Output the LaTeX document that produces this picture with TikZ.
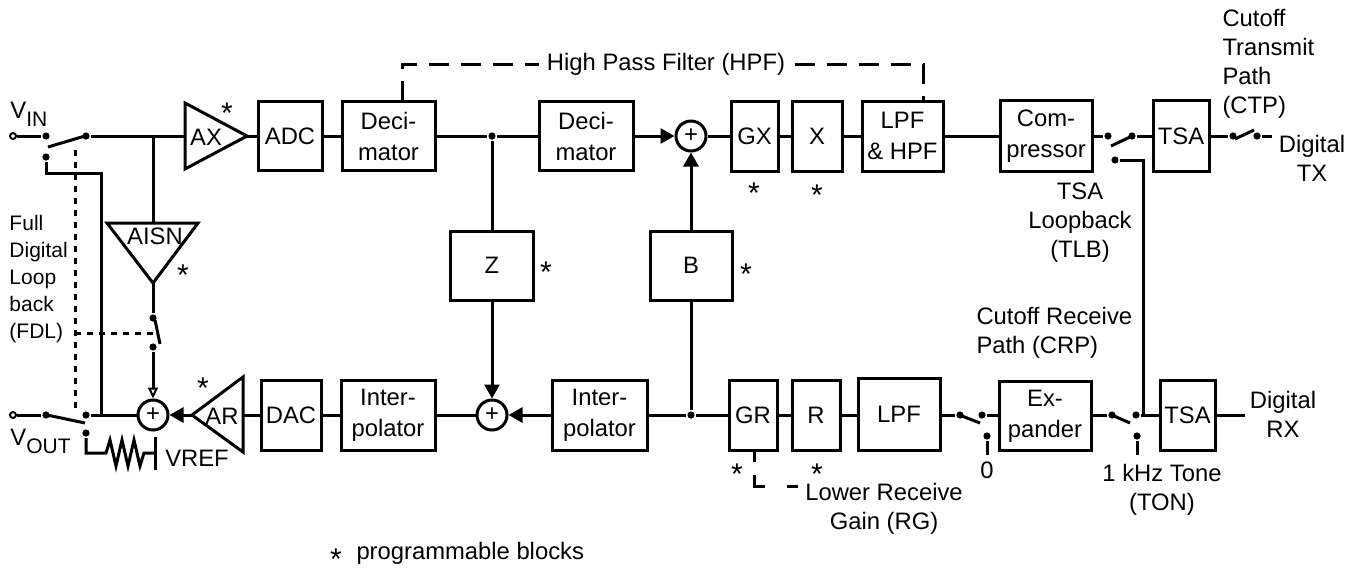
\documentclass[tikz,border=0pt]{standalone}
\usepackage{fontspec}
\setmainfont{Liberation Sans}
\usetikzlibrary{arrows.meta}
\newcommand\astglyph{\raisebox{-0.43em}[0.29em][0pt]{*}}
\begin{document}
\begin{tikzpicture}[x=0.5pt,y=-0.5pt,line width=1.5pt,
  blk/.style={draw,inner sep=0pt,align=center,font=\fontsize{11.9}{15.5}\selectfont},
  lbl/.style={inner sep=0pt,align=center,font=\fontsize{11.9}{14.5}\selectfont},
  lbll/.style={inner sep=0pt,align=left,font=\fontsize{11.9}{14.5}\selectfont},
  small/.style={inner sep=0pt,align=left,font=\fontsize{10.5}{13.5}\selectfont},
  sumc/.style={draw,circle,minimum size=15pt,inner sep=0pt,font=\fontsize{11.9}{12}\selectfont},
  dot/.style={circle,fill,inner sep=0pt,minimum size=3.6pt},
  odot/.style={circle,draw,fill=white,inner sep=0pt,minimum size=3pt,line width=1pt},
  arr/.style={-{Triangle[length=7pt,width=7.5pt]}},
  oarr/.style={-{Triangle[open,length=5.5pt,width=5pt,line width=1pt]}},
  ast/.style={inner sep=0pt,font=\fontsize{15}{15}\selectfont},
  dotted3/.style={dash pattern=on 3pt off 3pt},
  hpfdash/.style={dash pattern=on 10pt off 6pt}]
\path[use as bounding box,fill=white] (0,0) rectangle (1359,569);

% ---------- top row blocks ----------
\node[blk,minimum width=32pt,minimum height=34.5pt] (adc) at (290,136) {ADC};
\node[blk,minimum width=46.5pt,minimum height=34.5pt] (dec1) at (388.5,136) {Deci-\\mator};
\node[blk,minimum width=47pt,minimum height=34.5pt] (dec2) at (586,136) {Deci-\\mator};
\node[sumc] (s1) at (691,136) {+};
\node[blk,minimum width=23.5pt,minimum height=35pt] (gx) at (754.5,136) {GX};
\node[blk,minimum width=25pt,minimum height=35pt] (xb) at (817,136) {X};
\node[blk,minimum width=40.5pt,minimum height=35pt] (lpfh) at (902.5,136) {LPF\\\& HPF};
\node[blk,minimum width=46pt,minimum height=35.5pt] (comp) at (1046,136) {Com-\\pressor};
\node[blk,minimum width=28pt,minimum height=35.5pt] (tsat) at (1181,136) {TSA};

% ---------- middle blocks ----------
\node[blk,minimum width=41.5pt,minimum height=34.5pt] (zb) at (492,265.5) {Z};
\node[blk,minimum width=41pt,minimum height=34.5pt] (bb) at (691,265.5) {B};

% ---------- bottom row blocks ----------
\node[blk,minimum width=30pt,minimum height=35pt] (dac) at (291,415) {DAC};
\node[blk,minimum width=47pt,minimum height=35pt] (int1) at (388,415) {Inter-\\polator};
\node[sumc] (s2) at (492,415) {+};
\node[blk,minimum width=47.5pt,minimum height=35pt] (int2) at (599.5,415) {Inter-\\polator};
\node[blk,minimum width=24pt,minimum height=35pt] (gr) at (753,415) {GR};
\node[blk,minimum width=24pt,minimum height=35pt] (rb) at (816,415) {R};
\node[blk,minimum width=41pt,minimum height=36pt] (lpf) at (899,414) {LPF};
\node[blk,minimum width=46pt,minimum height=34.5pt] (expd) at (1045,416) {Ex-\\pander};
\node[blk,minimum width=27.5pt,minimum height=35pt] (tsab) at (1187.5,415) {TSA};
\node[sumc] (s3) at (153,415) {+};

% ---------- amplifiers (triangles) ----------
\coordinate (axt) at (185,103); \coordinate (axb) at (185,169); \coordinate (axo) at (247,136);
\coordinate (axi) at (185,136);
\draw (axt) -- (axb) -- (axo) -- cycle;
\node[lbl] (axl) at (206,137) {AX};
\coordinate (aisnl) at (107,223); \coordinate (aisnr) at (198,223); \coordinate (aisno) at (153,283);
\coordinate (aisni) at (153,223);
\draw (aisnl) -- (aisnr) -- (aisno) -- cycle;
\node[lbl] (aisnt) at (155,236) {AISN};
\coordinate (art) at (243,377); \coordinate (arb) at (243,452); \coordinate (aro) at (192,415);
\coordinate (ari) at (243,415);
\draw (art) -- (arb) -- (aro) -- cycle;
\node[lbl] (arl) at (222,416) {AR};

% ---------- V_IN switch ----------
\node[odot] (vin) at (13,136) {};
\node[dot] (vina) at (46,136) {};
\node[dot] (vinb) at (86,136) {};
\node[dot] (vinc) at (46,157) {};
\draw (vin) -- (vina);
\draw (48,147) -- (85,136);
\coordinate (aisnj) at (153,136);
\draw (vinb) -- (axi);
\draw (aisnj) -- (aisni);
\draw (axo) -- (adc);
\coordinate (lb1) at (101,173);
\coordinate (fdlj) at (101,415);
\draw (vinc) |- (lb1) -- (fdlj);

% ---------- AISN loop switch ----------
\node[dot] (sa) at (153,318) {};
\node[dot] (sb) at (153,347) {};
\draw (aisno) -- (sa);
\draw (155,320) -- (160,344);
\draw[oarr] (sb) -- (s3.north);

% ---------- FDL dotted lines ----------
\coordinate (fdlt) at (75,150); \coordinate (fdlb) at (75,412);
\coordinate (fdlm) at (75,333); \coordinate (fdls) at (157,333);
\draw[dotted3] (fdlt) -- (fdlb);
\draw[dotted3] (fdlm) -- (fdls);

% ---------- V_OUT switch and VREF ----------
\node[odot] (vout) at (13,415) {};
\node[dot] (vouta) at (46,415) {};
\node[dot] (voutb) at (86,415) {};
\node[dot] (voutc) at (86,433) {};
\draw (vout) -- (vouta);
\draw (47,415) -- (85,423);
\draw (voutb) -- (s3);
\coordinate (resa) at (101,453);
\coordinate (resb) at (155,453);
\draw (voutc) |- (resa) -- (106,453) -- (110,440) -- (116,466) -- (122,440) -- (128,466) -- (134,440) -- (140,466) -- (144,453) -- (resb);
\draw (155,437) -- (155,470);

% ---------- top path connectors ----------
\node[dot] (zt) at (492,136) {};
\draw (adc) -- (dec1);
\draw (dec1) -- (zt) -- (dec2);
\draw (zt) -- (zt |- zb.north);
\draw[arr] (dec2) -- (s1);
\draw (s1) -- (gx);
\draw (gx) -- (xb);
\draw (xb) -- (lpfh);
\draw (lpfh) -- (comp);
\node[dot] (sw1a) at (1108,136) {};
\node[dot] (sw1b) at (1132,136) {};
\node[dot] (sw1c) at (1115,160) {};
\draw (comp) -- (sw1a);
\draw (1111,146) -- (1130,137);
\draw (sw1b) -- (tsat);
\coordinate (tlbj) at (1143,415);
\draw (sw1c) -| (tlbj);
\node[dot] (ctpa) at (1233,136) {};
\node[dot] (ctpb) at (1257,136) {};
\coordinate (txend) at (1272,136);
\draw (tsat) -- (ctpa);
\draw (1235,139) -- (1254,130);
\draw (ctpb) -- (txend);

% HPF dashed
\node[lbl] (hpf) at (666,64) {High Pass Filter (HPF)};
\coordinate (hpfa) at (402,101);
\coordinate (hpfb) at (923,101);
\draw[hpfdash] (hpfa) |- ([xshift=-3pt]hpf.west);
\draw[hpfdash] ([xshift=4pt]hpf.east) -| (hpfb);

% ---------- middle connectors ----------
\draw[arr] (zb.south -| s2) -- (s2.north);
\node[dot] (bj) at (691,415) {};
\draw (bj) -- (bb);
\draw[arr] (bb) -- (s1);

% ---------- bottom connectors ----------
\draw (gr) -- (bj) -- (int2);
\draw[arr] (int2) -- (s2);
\draw (s2) -- (int1);
\draw (int1) -- (dac);
\draw (dac) -- (ari);
\draw[arr] (aro) -- (s3);
\draw (gr) -- (rb);
\draw (rb) -- (rb -| lpf.west);
\node[dot] (l1) at (960,415) {};
\node[dot] (l2) at (982,415) {};
\node[dot] (l3) at (987,436) {};
\draw (lpf.east |- l1) -- (l1);
\draw (962,416) -- (980,423);
\draw (l2) -- (l2 -| expd.west);
\coordinate (zeroend) at (987,455);
\draw (l3) -- (zeroend);
\node[dot] (e1) at (1112,415) {};
\node[dot] (e2) at (1136,415) {};
\node[dot] (e3) at (1137,436) {};
\draw (expd.east |- e1) -- (e1);
\draw (1114,416) -- (1130,423);
\draw (e2) -- (tsab);
\coordinate (tonend) at (1137,455);
\draw (e3) -- (tonend);
\coordinate (rxend) at (1245,415);
\draw (tsab) -- (rxend);

% RG dashed
\coordinate (rga) at (754,450);
\coordinate (rgb) at (798,486);
\draw[dash pattern=on 6pt off 6.5pt on 11pt off 11pt on 5.5pt off 20pt] (rga) |- (rgb);

% ---------- labels ----------
\node[inner sep=0pt,anchor=west,font=\fontsize{11.9}{14}\selectfont] (vinl) at (9,114) {V\raisebox{-4pt}{\fontsize{10.5}{10.5}\selectfont IN}};
\node[inner sep=0pt,anchor=west,font=\fontsize{11.9}{14}\selectfont] (voutl) at (9,441) {V\raisebox{-4pt}{\fontsize{10.5}{10.5}\selectfont OUT}};
\node[lbl] (vref) at (197,458) {VREF};
\node[small,anchor=west] (fdl) at (8,279) {Full\\Digital\\Loop\\back\\(FDL)};
\node[lbll,anchor=west] (ctp) at (1221,64) {Cutoff\\Transmit\\Path\\(CTP)};
\node[lbl] (dtx) at (1312,158) {Digital\\TX};
\node[lbl] (tlb) at (1080,223) {TSA\\Loopback\\(TLB)};
\node[lbll,anchor=west] (crp) at (975,333) {Cutoff Receive\\Path (CRP)};
\node[lbl] (drx) at (1283,414) {Digital\\RX};
\node[lbl] (zero) at (987,470) {0};
\node[lbl] (ton) at (1162,490) {1 kHz Tone\\(TON)};
\node[lbl] (rg) at (884,509) {Lower Receive\\Gain (RG)};

% stars
\node[ast] (st1) at (227,106) {\astglyph};
\node[ast] (st2) at (183,268) {\astglyph};
\node[ast] (st3) at (203,381) {\astglyph};
\node[ast] (st4) at (546,265) {\astglyph};
\node[ast] (st5) at (746,267) {\astglyph};
\node[ast] (st6) at (754,186) {\astglyph};
\node[ast] (st7) at (817,188) {\astglyph};
\node[ast] (st8) at (737,467) {\astglyph};
\node[ast] (st9) at (817,467) {\astglyph};
\node[ast] (st10) at (336,552) {\astglyph};
\node[lbl,anchor=west] (legend) at (355,553) {programmable blocks};
\end{tikzpicture}
\end{document}
